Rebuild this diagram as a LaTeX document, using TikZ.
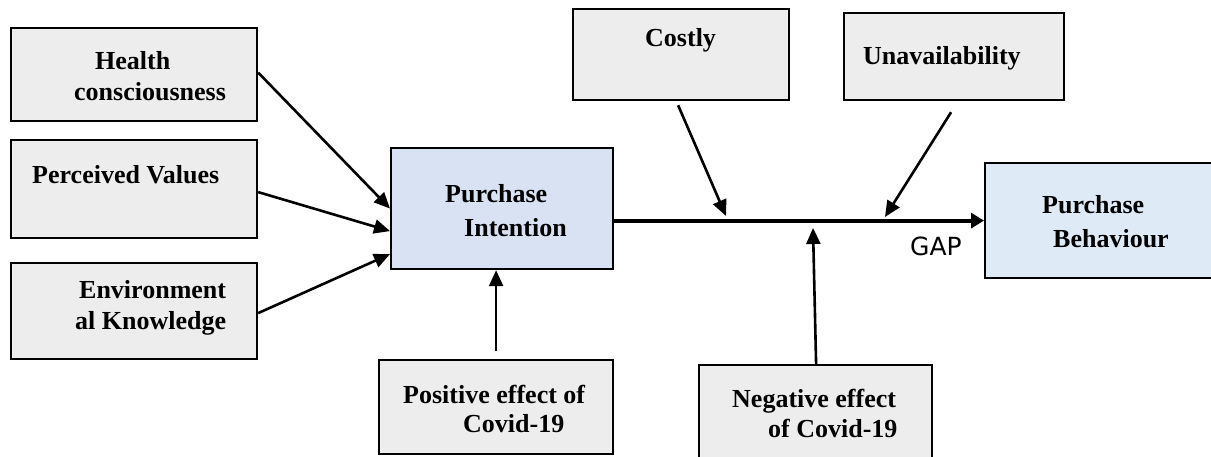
\documentclass[tikz,border=0pt]{standalone}
\usepackage{fontspec}
\setmainfont{Liberation Serif}
\newfontfamily\gapfont{DejaVu Sans}
\usetikzlibrary{arrows.meta,calc}
\definecolor{boxgray}{HTML}{EDEDED}
\definecolor{piblue}{HTML}{D9E2F3}
\definecolor{pbblue}{HTML}{DEEBF7}
\begin{document}
\begin{tikzpicture}[x=1pt,y=-1pt,
  box/.style={draw=black,line width=2.2pt,fill=boxgray,rectangle,anchor=north west,inner sep=0pt},
  lbl/.style={anchor=base west,inner sep=0pt,font=\fontsize{26}{31}\selectfont\bfseries},
  arr/.style={line width=2.6pt,-{Triangle[length=16pt,width=14pt]}},
  mainarr/.style={line width=4pt,-{Triangle[length=13pt,width=15pt]}}]
\useasboundingbox (0,0) rectangle (1211,456);
% boxes
\node[box,minimum width=246pt,minimum height=93pt] (hc) at (10,27) {};
\node[box,minimum width=246pt,minimum height=98pt] (pv) at (10,139) {};
\node[box,minimum width=246pt,minimum height=96pt] (ek) at (10,262) {};
\node[box,fill=piblue,minimum width=222pt,minimum height=121pt] (pi) at (390,147) {};
\node[box,minimum width=216pt,minimum height=91pt] (co) at (572,8) {};
\node[box,minimum width=220pt,minimum height=87pt] (un) at (843,12) {};
\node[box,fill=pbblue,minimum width=240pt,minimum height=115pt] (pb) at (984,162) {};
\node[box,minimum width=234pt,minimum height=94pt] (pe) at (378,359) {};
\node[box,minimum width=233pt,minimum height=110pt] (ne) at (698,364) {};
% texts
\node[lbl] (t1) at (95,69) {Health};
\node[lbl] (t2) at (74,100) {consciousness};
\node[lbl] (t3) at (32,183) {Perceived Values};
\node[lbl] (t4) at (79,298) {Environment};
\node[lbl] (t5) at (75,329) {al Knowledge};
\node[lbl] (t6) at (645,46) {Costly};
\node[lbl] (t7) at (863,64) {Unavailability};
\node[lbl] (t8) at (445,202) {Purchase};
\node[lbl] (t9) at (464,236) {Intention};
\node[lbl] (t10) at (1042,213) {Purchase};
\node[lbl] (t11) at (1053,247) {Behaviour};
\node[lbl] (t12) at (403,403) {Positive effect of};
\node[lbl] (t13) at (463,432) {Covid-19};
\node[lbl] (t14) at (732,407) {Negative effect};
\node[lbl] (t15) at (768,437) {of Covid-19};
\node[anchor=base west,inner sep=0pt,font=\gapfont\fontsize{25}{30}\selectfont] (gap) at (910,255) {GAP};
% connector points on the main line
\coordinate (cA) at (726,216);
\coordinate (cB) at (885,217);
\coordinate (cN) at (813,228);
% arrows
\draw[arr] ([yshift=2pt]hc.east) -- (pi.west);
\draw[arr] ([yshift=-3pt]pv.east) -- ([yshift=-22.5pt]pi.west);
\draw[arr] ([yshift=-2pt]ek.east) -- ([yshift=-45.5pt]pi.west);
\draw[mainarr] (pi.east |- pb.west) -- (pb.west);
\draw[arr] ([xshift=-3pt,yshift=-4pt]co.south) -- (cA);
\draw[arr] ([xshift=-3pt,yshift=-11pt]un.south) -- (cB);
\draw[arr] ([xshift=0.5pt]ne.north) -- (cN);
\draw[arr] ([yshift=8pt]pe.north) -- (pe.north |- pi.south);
\end{tikzpicture}
\end{document}
